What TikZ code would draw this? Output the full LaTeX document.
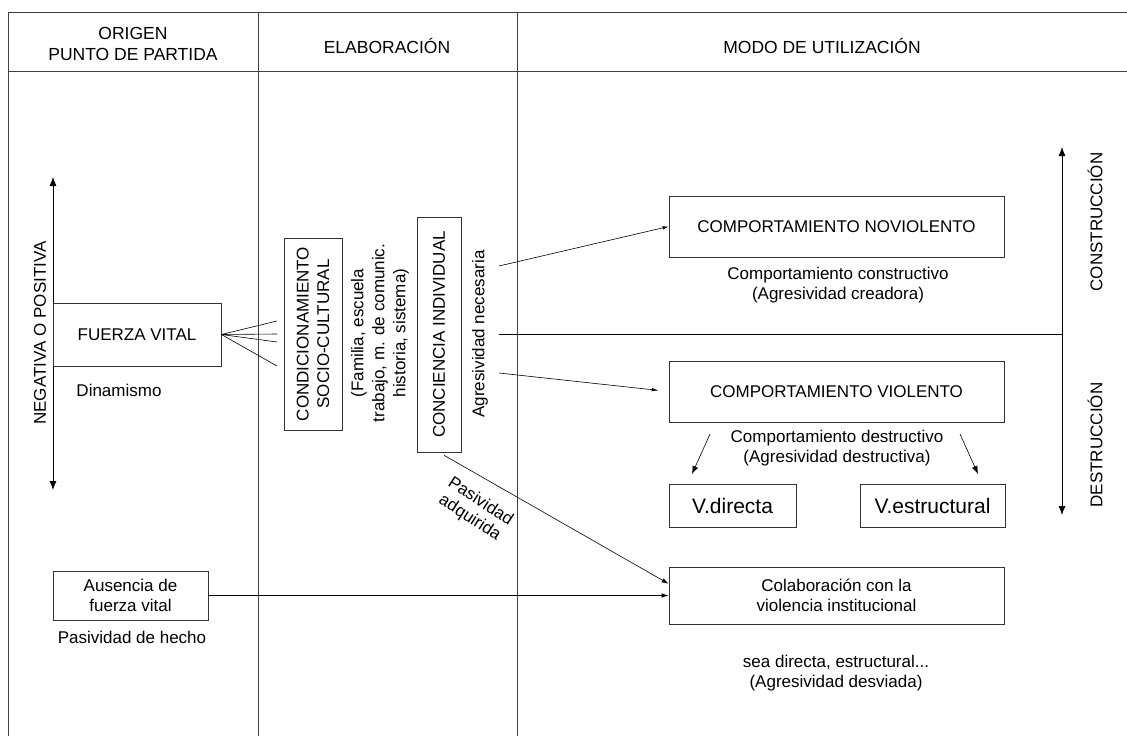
\documentclass[tikz,border=0pt]{standalone}
\usepackage{fontspec}
\setmainfont{Liberation Sans}
\usetikzlibrary{arrows.meta}

\begin{document}
\begin{tikzpicture} [x = 1pt, y = -1pt, >={Latex[length=7pt, width=4.5pt]},
  frame/.style = {black!75, line width = 0.8pt},
  txt/.style = {font = \fontsize{17}{20.5}\selectfont, align = center, inner sep = 0pt},
  box/.style = {txt, draw = black!80, line width = 0.8pt},
  bigtip/.style = {>={Latex[length=9pt, width=7pt]}},
  arr/.style = {->, line width = 0.6pt}]
\useasboundingbox (0, 0) rectangle (1127, 736);
\draw[frame] (8, 736) -- (8, 12) -- (1127, 12);
\draw[frame] (8, 71) -- (1127, 71);
\draw[frame] (258, 12) -- (258, 736);
\draw[frame] (517, 12) -- (517, 736);
\node[txt, font = \fontsize{17.5}{21.5}\selectfont] (origen) at (133, 44){ORIGEN\\PUNTO DE PARTIDA};
\node[txt, font = \fontsize{17.5}{21.5}\selectfont] (elab) at (387, 46){ELABORACIÓN};
\node[txt, font = \fontsize{17.5}{21.5}\selectfont] (modo) at (822, 46){MODO DE UTILIZACIÓN};
\coordinate (negtop) at (53, 177);
\coordinate (negbot) at (53, 490);
\draw[bigtip, <->, line width = 0.8pt] (negtop) -- (negbot);
\node[txt, rotate = 90] (negpos) at (40, 333){NEGATIVA O POSITIVA};
\node[box, fill = white, minimum width = 168, minimum height = 63] (fuerza) at (137, 334.5){FUERZA VITAL};
\node[txt] (dinam) at (119, 390){Dinamismo};
\coordinate (fan1) at (277, 321);
\coordinate (fan2) at (277, 334);
\coordinate (fan3) at (277, 342);
\coordinate (fan4) at (277, 366);
\draw[line width = 0.6pt] (fuerza.east) -- (fan1);
\draw[line width = 0.6pt] (fuerza.east) -- (fan2);
\draw[line width = 0.6pt] (fuerza.east) -- (fan3);
\draw[line width = 0.6pt] (fuerza.east) -- (fan4);
\node[box, rotate = 90, minimum width = 192, minimum height = 58] (socio) at (313, 334){CONDICIONAMIENTO\\SOCIO-CULTURAL};
\node[txt, rotate = 90, font = \fontsize{17}{21}\selectfont] (familia) at (380, 333){(Familia, escuela\\trabajo, m. de comunic.\\historia, sistema)};
\node[box, rotate = 90, minimum width = 235, minimum height = 44] (conc) at (439, 334.5){CONCIENCIA INDIVIDUAL};
\node[txt, rotate = 90] (agrnec) at (480, 334){Agresividad necesaria};
\coordinate (up) at (499, 266);
\coordinate (split) at (499, 334);
\coordinate (down) at (499, 373);
\node[box, minimum width = 335, minimum height = 61] (noviol) at (836.5, 226.5){COMPORTAMIENTO NOVIOLENTO};
\node[txt] (constr) at (838, 285){Comportamiento constructivo\\(Agresividad creadora)};
\node[box, minimum width = 335, minimum height = 61] (viol) at (836.5, 391.5){COMPORTAMIENTO VIOLENTO};
\node[txt] (destr) at (837, 448){Comportamiento destructivo\\(Agresividad destructiva)};
\node[box, font = \fontsize{21}{24}\selectfont, minimum width = 127, minimum height = 43] (vdir) at (732.5, 505.5){V.directa};
\node[box, font = \fontsize{21}{24}\selectfont, minimum width = 145, minimum height = 43] (vestr) at (932.5, 505.5){V.estructural};
\coordinate (axis) at (1062, 334);
\coordinate (constop) at (1062, 147);
\coordinate (destbot) at (1062, 515);
\draw[bigtip, <->, line width = 0.8pt] (constop) -- (destbot);
\node[txt, rotate = 90] (constru) at (1095, 222){CONSTRUCCIÓN};
\node[txt, rotate = 90] (destru) at (1095, 445){DESTRUCCIÓN};
\draw[line width = 0.8pt] (split) -- (axis);
\draw[arr, >={Latex[length=6pt, width=3.5pt]}] (up) -- (noviol.west);
\draw[arr, >={Latex[length=7pt, width=3.5pt]}, shorten > = 10pt] (down) -- (viol.west);
\coordinate (ldstart) at (710, 434);
\coordinate (ldend) at (692, 474);
\coordinate (rdstart) at (960, 434);
\coordinate (rdend) at (978, 474);
\draw[arr, >={Latex[length=8pt, width=6pt]}] (ldstart) -- (ldend);
\draw[arr, >={Latex[length=8pt, width=6pt]}] (rdstart) -- (rdend);
\node[box, minimum width = 155, minimum height = 49] (ausencia) at (130.5, 595.5){Ausencia de\\fuerza vital};
\node[txt] (pashecho) at (132, 637){Pasividad de hecho};
\node[box, minimum width = 335, minimum height = 57] (colab) at (836.5, 595.5){Colaboración con la\\violencia institucional};
\node[txt] (desviada) at (836, 673){sea directa, estructural...\\(Agresividad desviada)};
\draw[arr, line width = 0.8pt] (ausencia.east) -- (colab.west);
\draw[arr, shorten < = 6pt] (conc.west) -- (colab.176);
\node[txt, rotate = -33, font = \fontsize{17}{19.5}\selectfont] (pasadq) at (475, 510){Pasividad\\adquirida};
\end{tikzpicture}
\end{document}
